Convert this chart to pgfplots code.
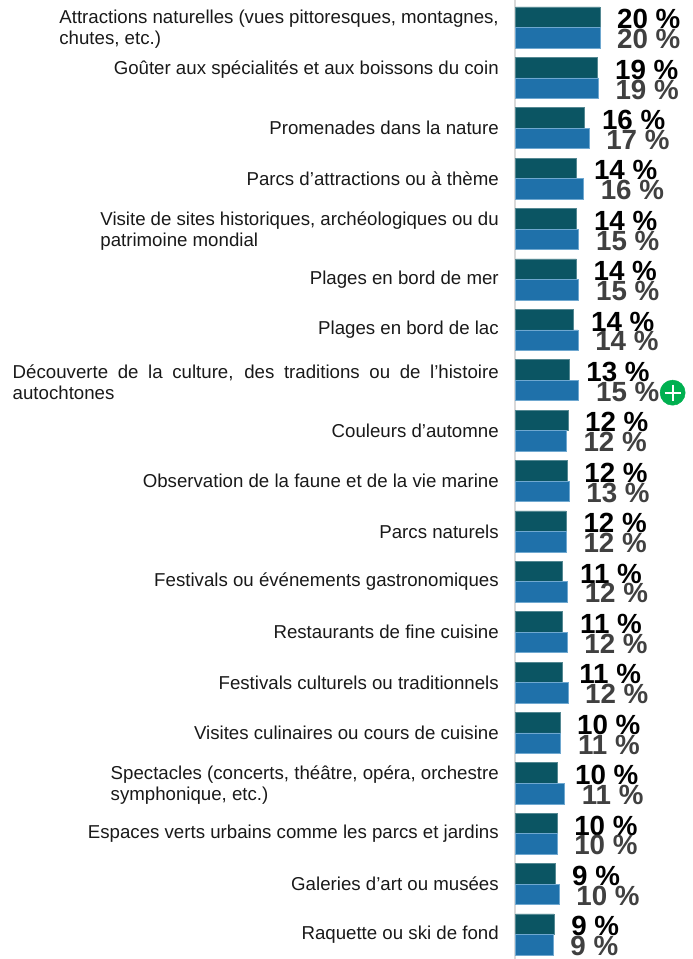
\documentclass[border=0pt]{standalone}
\usepackage{pgfplots}
\usepackage{pgfplotstable}
\pgfplotsset{compat=1.18}
\usepackage{fontspec}
\setmainfont{Liberation Sans}
\definecolor{tealbar}{HTML}{0B5563}
\definecolor{bluebar}{HTML}{1F71AA}
\definecolor{bluebord}{HTML}{6FA8D0}
\definecolor{greylab}{HTML}{404040}
\definecolor{axisgrey}{HTML}{D9D9D9}
\definecolor{plusgreen}{HTML}{00B050}

% two line labels: first line justified to the full width
\newcommand{\twol}[3]{\raisebox{-1.5pt}[19.5pt][12.5pt]{\parbox[c]{#1}{\baselineskip=15.5pt\makebox[#1][s]{#2}\\#3}}}

\pgfplotstableread{
row a lab
0 20.0 20
1 19.5 19
2 16.4 16
3 14.5 14
4 14.5 14
5 14.4 14
6 13.8 14
7 12.7 13
8 12.4 12
9 12.2 12
10 12.0 12
11 11.2 11
12 11.2 11
13 11.0 11
14 10.5 10
15 10.0 10
16 9.8 10
17 9.3 9
18 9.1 9
}\firstdata
\pgfplotstableread{
row a lab
0 20.0 20
1 19.6 19
2 17.4 17
3 16.1 16
4 15.0 15
5 15.0 15
6 14.8 14
7 15.0 15
8 12.0 12
9 12.7 13
10 12.0 12
11 12.3 12
12 12.2 12
13 12.4 12
14 10.7 11
15 11.6 11
16 9.8 10
17 10.3 10
18 8.9 9
}\seconddata

\begin{document}
\begin{tikzpicture}
\useasboundingbox (-386.25pt,0pt) rectangle (132.75pt,719.25pt);
\begin{axis}[
    at={(0pt,0pt)}, anchor=south west,
    scale only axis,
    width=132.75pt, height=719.25pt,
    xmin=-0.17, xmax=41.9,
    ymin=-0.546, ymax=18.486,
    y dir=reverse,
    clip=false,
    axis x line=none,
    axis y line=left,
    axis line style={-, draw=axisgrey, line width=1.5pt},
    major tick length=0pt,
    ytick={0,...,18},
    yticklabels={
        {\twol{329.5pt}{Attractions naturelles (vues pittoresques, montagnes,}{chutes, etc.)}},
        {\raisebox{5.75pt}[0.7em][0.2em]{Goûter aux spécialités et aux boissons du coin}},
        {Promenades dans la nature},
        {Parcs d’attractions ou à thème},
        {\twol{298.75pt}{Visite de sites historiques, archéologiques ou du}{patrimoine mondial}},
        {Plages en bord de mer},
        {Plages en bord de lac},
        {\twol{364.5pt}{Découverte de la culture, des traditions ou de l’histoire}{autochtones}},
        {Couleurs d’automne},
        {Observation de la faune et de la vie marine},
        {Parcs naturels},
        {Festivals ou événements gastronomiques},
        {Restaurants de fine cuisine},
        {Festivals culturels ou traditionnels},
        {Visites culinaires ou cours de cuisine},
        {\twol{291pt}{Spectacles (concerts, théâtre, opéra, orchestre}{symphonique, etc.)}},
        {Espaces verts urbains comme les parcs et jardins},
        {Galeries d’art ou musées},
        {Raquette ou ski de fond}
    },
    yticklabel style={font=\fontsize{14}{15.5}\selectfont, anchor=east, xshift=-12pt, inner sep=0pt, text=black!90},
    xbar,
    bar width=15.4pt,
    point meta=explicit symbolic,
    nodes near coords={\pgfplotspointmeta~\%},
    nodes near coords align={horizontal},
    every node near coord/.append style={font=\fontsize{20.8}{20.8}\selectfont\bfseries, inner sep=0pt, xshift=12.75pt, anchor=west},
]
\addplot[bar shift=7.7pt, fill=tealbar, draw=tealbar!70!white, line width=0.5pt,
    every node near coord/.append style={text=black, yshift=-1.5pt}]
    table[x=a, y=row, meta=lab] {\firstdata};
\addplot[bar shift=-7.7pt, fill=bluebar, draw=bluebord, line width=0.5pt,
    every node near coord/.append style={text=greylab, yshift=-1pt}]
    table[x=a, y=row, meta=lab] {\seconddata};
% plus icon next to the eighth row
\addplot[only marks, mark=*, mark size=9.4pt, color=plusgreen, nodes near coords={}] coordinates {(37.3,7.247)};
\addplot[only marks, mark=+, mark size=6pt, color=white, line width=1.6pt, nodes near coords={},
    mark options={line width=1.6pt}] coordinates {(37.3,7.247)};
\end{axis}
\end{tikzpicture}
\end{document}
